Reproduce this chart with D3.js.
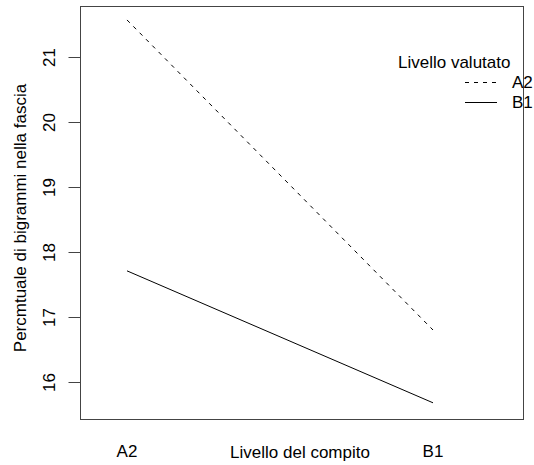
<!DOCTYPE html>
<html><head><meta charset="utf-8">
<script src="https://cdn.jsdelivr.net/npm/d3@7"></script>
<style>body{margin:0;background:#fff}svg{display:block}text{font-family:"Liberation Sans",Arial,sans-serif;fill:#000}</style>
</head><body><svg id="c" width="534" height="465"></svg>
<script>
const categories = ["A2", "B1"];
const seriesNames = ["A2", "B1"];
const seriesA2 = [21.57, 16.80];
const seriesB1 = [17.71, 15.68];
const yTicks = [16, 17, 18, 19, 20, 21];
const xTitle = "Livello del compito";
const yTitle = "Percmtuale di bigrammi nella fascia";
const legendTitle = "Livello valutato";

const svg = d3.select("#c");
const box = {l: 80, t: 6, r: 523, b: 419};
const x = d3.scaleLinear().domain([1, 2]).range([127, 433]);
const y = d3.scaleLinear().domain([16, 21]).range([382, 57]);
const fs = 17;

// box
svg.append("rect").attr("x", box.l + 0.5).attr("y", box.t + 0.5)
  .attr("width", box.r - box.l).attr("height", box.b - box.t)
  .attr("fill", "none").attr("stroke", "#444").attr("stroke-width", 1);

// y axis
const yAxis = d3.axisLeft(y).tickValues(yTicks).tickSize(12).tickPadding(10).tickFormat(d3.format("d"));
const gy = svg.append("g").attr("transform", `translate(${box.l + 0.5},0)`).call(yAxis);
gy.select(".domain").remove();
gy.selectAll(".tick line").attr("stroke", "#444");
gy.selectAll(".tick text").attr("font-size", fs).attr("font-family", "Liberation Sans, Arial, sans-serif")
  .attr("fill", "#000")
  .attr("transform", "rotate(-90)").attr("text-anchor", "middle")
  .attr("x", 0).attr("y", -25.5).attr("dy", "0");

// x labels
svg.selectAll(".xl").data(categories).join("text").attr("class", "xl")
  .attr("x", (d, i) => x(i + 1)).attr("y", 457).attr("text-anchor", "middle")
  .attr("font-size", fs).text(d => d);

svg.append("text").attr("x", 300).attr("y", 458).attr("text-anchor", "middle")
  .attr("font-size", fs).text(xTitle);
svg.append("text").attr("transform", "translate(25.5,218) rotate(-90)").attr("text-anchor", "middle")
  .attr("font-size", fs).text(yTitle);

// lines
const line = d3.line().x((d, i) => x(i + 1)).y(d => y(d));
const series = [
  {name: seriesNames[0], values: seriesA2, dash: "4,5"},
  {name: seriesNames[1], values: seriesB1, dash: null}
];
svg.selectAll(".ln").data(series).join("path").attr("class", "ln")
  .attr("d", d => line(d.values)).attr("fill", "none").attr("stroke", "#000")
  .attr("stroke-width", 1).attr("stroke-dasharray", d => d.dash);

// legend
svg.append("text").attr("x", 398).attr("y", 68).attr("font-size", fs).text(legendTitle);
const lg = svg.selectAll(".lg").data(series).join("g").attr("class", "lg")
  .attr("transform", (d, i) => `translate(0,${82 + i * 20})`);
lg.append("line").attr("x1", 465).attr("x2", 497).attr("y1", 0.5).attr("y2", 0.5)
  .attr("stroke", "#000").attr("stroke-width", 1).attr("stroke-dasharray", d => d.dash);
lg.append("text").attr("x", 512).attr("y", 6).attr("font-size", fs).text(d => d.name);
</script></body></html>
